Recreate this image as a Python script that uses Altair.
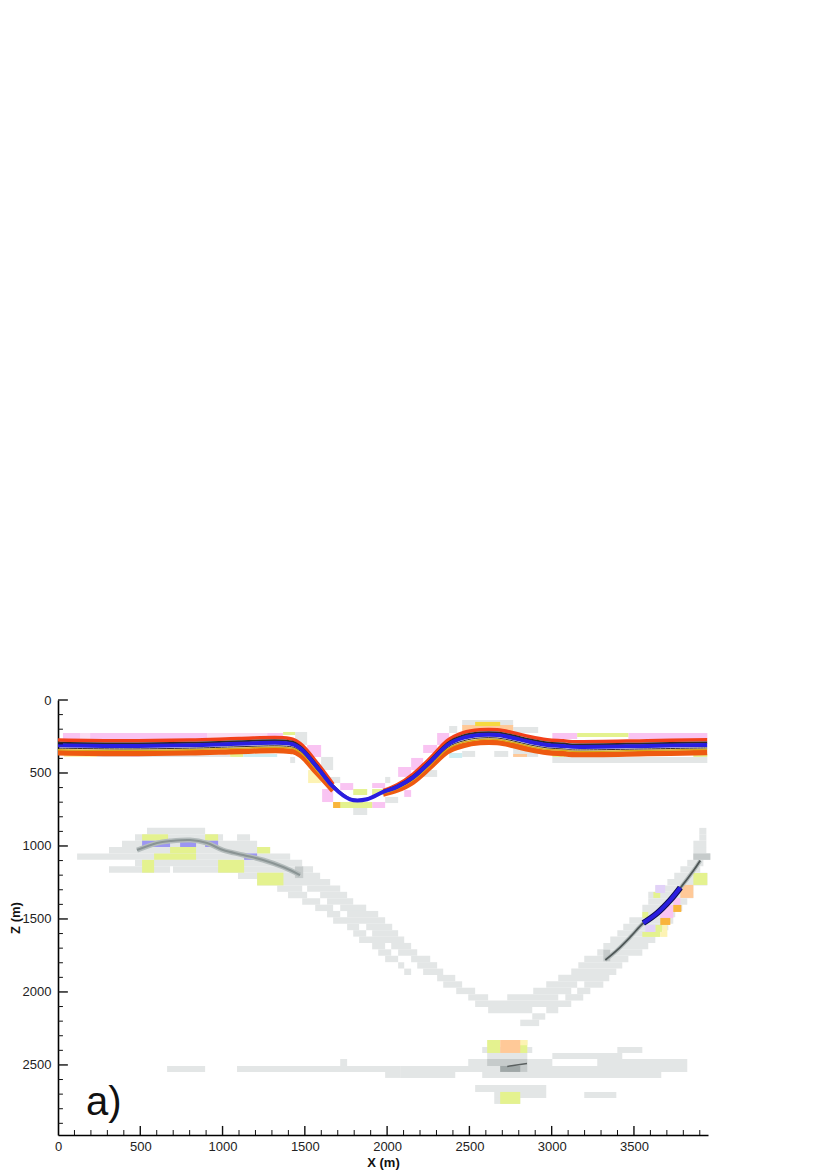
import altair as alt
import pandas as pd

X_MAX = 3950
Z_MAX = 2980
FONT = "Liberation Sans"

# grey halo rows: (top depth, x from, x to)
GREY_ROWS = [
    (876,541,894),(920,468,1003),(920,1088,1167),(964,389,1210),(1007,310,1289),(1051,116,1411),
    (1095,468,1484),(1139,310,681),(1139,699,1550),(1183,1094,1593),(1226,1210,1654),
    (1270,1332,1484),(1270,1514,1715),(1314,1398,1514),(1314,1593,1757),(1358,1484,1593),(1358,1635,1794),
    (1402,1563,1672),(1402,1715,1873),(1445,1635,1715),(1445,1757,1946),(1489,1672,1988),
    (1533,1757,1830),(1533,1873,2031),(1577,1794,1873),(1577,1909,2067),(1621,1830,2104),
    (1664,1909,1988),(1664,2025,2146),(1708,1946,2025),(1708,2067,2183),(1752,1988,2067),(1752,2146,2262),
    (1796,2067,2104),(1796,2183,2304),(1840,2104,2146),(1840,2219,2341),(1883,2304,2414),(1927,2341,2456),
    (1971,2420,2535),(2015,2493,2614),(2015,2730,3040),(2015,3083,3192),(2059,2535,3119),
    (2102,2614,2882),(2102,2967,3040),(2146,2882,2961),(2190,2809,2924),
    (1971,2888,3119),(1971,3155,3235),(1927,2967,3155),(1927,3198,3314),(1883,3040,3350),(1840,3119,3393),
    (1796,3162,3429),(1752,3198,3466),(1708,3277,3551),(1664,3314,3587),(1621,3356,3630),(1577,3399,3660),
    (1533,3435,3709),(1489,3472,3739),(1445,3551,3751),(1402,3551,3794),(1358,3587,3824),(1314,3587,3861),
    (1270,3630,3861),(1226,3703,3946),(1183,3745,3946),(1139,3782,3903),(1095,3824,3922),(1051,3861,3964),
    (1007,3861,3940),(964,3861,3940),(920,3897,3940),(876,3897,3940),
]

# deep flat reflector cells and the small blocks: (x0, x1, z0, z1)
GREY_CELLS = [
    (663,894,2507,2548),(1088,2079,2507,2548),(1715,1757,2459,2507),(1988,2079,2548,2589),
    (2079,3824,2507,2548),(2079,2414,2548,2589),(2578,3666,2548,2589),(2493,3004,2459,2507),(3277,3824,2459,2507),
    (2608,2852,2418,2459),(3004,3429,2418,2459),(2578,2882,2377,2418),(3399,3551,2377,2418),
    (2535,2967,2637,2685),(2651,2967,2685,2726),(3198,3393,2685,2726),(2651,2809,2726,2767),
    # shallow reflector halo
    (1441,1514,219,308),(1599,1672,390,480),(1635,1715,527,569),(1988,2019,527,569),(1794,1879,740,788),
    (1411,1441,390,432),(2219,2304,480,527),(1988,2067,664,706),(2377,2426,178,226),(2456,2766,137,178),
    (2456,2535,349,390),(2651,2736,349,390),(2766,2918,185,226),(2766,2918,329,390),(3004,3946,390,432),
    (237,438,370,390),(499,1046,375,390),
]
MID_GREY_CELLS = [(2608,2852,2459,2507),(2730,2852,2507,2548),(1440,1490,1140,1220),(3314,3356,1710,1790),(3861,3964,1051,1095)]
DARK_GREY_CELLS = [(2687,2809,2507,2548)]
PINK_CELLS = [
    (30,134,226,267),(195,906,226,267),(1271,1368,226,267),(1514,1599,308,390),(1605,1672,610,699),
    (1715,1794,569,617),(1909,1988,569,603),(1909,1988,699,740),(2304,2377,226,308),(2219,2304,308,363),
    (2146,2219,397,480),(2067,2146,459,527),(2104,2146,617,664),(3004,3155,226,267),(3466,3946,226,267),
    (3739,3782,1356,1404),(3660,3739,1404,1493),
]
PALE_PINK_CELLS = [(906,1271,226,267),(134,195,226,267)]
LIME_CELLS = [
    (1368,1441,219,240),(1794,1879,610,651),(1909,1988,610,651),(1672,1909,699,740),(3155,3466,226,253),
    (1046,1125,370,390),(3004,3083,370,390),(3861,3946,370,390),
    (511,669,920,964),(894,973,920,964),(1210,1289,1007,1051),(681,839,1007,1051),(584,839,1051,1095),
    (511,584,1095,1183),(973,1131,1095,1183),(1210,1370,1183,1270),
    (3861,3946,1185,1267),(3551,3587,1452,1493),(3630,3672,1541,1589),(3551,3660,1589,1623),(3618,3660,1315,1356),
    (2608,2687,2329,2418),(2772,2852,2329,2418),(2687,2809,2685,2767),
]
PALE_YELLOW_CELLS = [(1520,1599,480,569),(36,237,370,390),(3672,3703,1541,1589),(3660,3703,1589,1623),(2800,2852,2329,2365)]
PEACH_CELLS = [(2456,2766,171,212),(2766,2850,370,390),(3782,3861,1267,1356),(2687,2809,2329,2418)]
ORANGE_CELLS = [(3739,3788,1404,1452),(3660,3721,1493,1541),(1672,1715,699,740)]
LIGHT_BLUE_CELLS = [(2377,2456,363,397),(1125,1332,370,390)]
LILAC_CELLS = [(438,499,370,390),(3569,3630,1541,1589),(3630,3690,1267,1322)]
SOFT_BLUE_CELLS = [(511,681,964,1007),(742,839,964,1007),(894,973,964,1007),(1131,1210,1051,1095)]
PEAK_YELLOW_CELLS = [(2535,2687,150,178)]

PALETTE = [
    (GREY_CELLS,"#e3e6e6"),(MID_GREY_CELLS,"#c6cbcb"),(DARK_GREY_CELLS,"#a0a8a8"),(PALE_PINK_CELLS,"#fbdcf2"),
    (PINK_CELLS,"#f9c4f2"),(LIME_CELLS,"#e4f28f"),(PALE_YELLOW_CELLS,"#fdf3b4"),(PEACH_CELLS,"#ffc998"),
    (ORANGE_CELLS,"#f9b43c"),(LIGHT_BLUE_CELLS,"#cdeef2"),(LILAC_CELLS,"#e2d2f8"),(SOFT_BLUE_CELLS,"#9c96f2"),
    (PEAK_YELLOW_CELLS,"#f6d840"),
]

# shallow reflector, one depth curve per coloured lobe
REEF_X = [0,400,800,1100,1368,1471,1574,1672,1775,1878,1976,2061,2158,2261,2365,2462,2565,2669,2766,2869,2973,3070,3173,3581,3945]
Z_BLUE = [310,315,310,300,295,330,460,595,680,680,630,595,530,425,310,260,240,240,260,288,308,315,322,315,308]
Z_RED = [274,279,274,264,259,297,430,577,674,674,620,581,507,399,279,224,204,204,224,252,272,279,286,279,272]
Z_BLACK_UP = [293,298,293,283,278,315,447,585,676,676,625,587,520,413,296,243,223,223,243,271,291,298,305,298,291]
Z_BLACK_LO = [330,335,330,320,315,348,476,605,684,684,635,603,543,440,327,280,260,260,280,308,328,335,342,335,328]
Z_YELLOW = [340,345,340,330,325,357,484,612,686,686,639,608,548,446,336,290,270,270,290,318,338,345,352,345,338]
Z_ORANGE = [362,367,362,352,347,377,500,621,690,690,644,617,561,461,355,312,292,292,312,340,360,367,374,367,360]

# second reflector traces
ARC_X = [480,602,681,803,906,1003,1125,1246,1368,1471]
ARC_Z = [1028,980,966,959,980,1028,1062,1096,1144,1199]
RISE_X = [3326,3399,3478,3557,3642,3721,3794,3861,3903]
RISE_Z = [1781,1712,1623,1528,1459,1370,1270,1170,1100]
RISE_BLUE_X = [3557,3642,3721,3782]
RISE_BLUE_Z = [1528,1459,1370,1285]
DEEP_X = [2730,2850]
DEEP_Z = [2510,2490]

X_VALUES = [0,500,1000,1500,2000,2500,3000,3500]
X_MINOR = [100,200,300,400,600,700,800,900,1100,1200,1300,1400,1600,1700,1800,1900,2100,2200,2300,2400,2600,2700,2800,2900,3100,3200,3300,3400,3600,3700,3800,3900]
Z_VALUES = [0,500,1000,1500,2000,2500]
Z_MINOR = [100,200,300,400,600,700,800,900,1100,1200,1300,1400,1600,1700,1800,1900,2100,2200,2300,2400,2600,2700,2800,2900]
PANEL_LABEL = ["a)"]

x_s = alt.Scale(domain=[0, X_MAX], nice=False, zero=False)
z_s = alt.Scale(domain=[0, Z_MAX], reverse=True, nice=False, zero=False)
X = lambda f: alt.X(f, type="quantitative", scale=x_s)
Z = lambda f: alt.Y(f, type="quantitative", scale=z_s)

# axes first: a shared axis is taken from the first layer that has one
axis_common = dict(
    domainColor="#000000", domainWidth=1.6, ticks=False, grid=False, labelFont=FONT, labelFontSize=13,
    labelColor="#222222", titleFont=FONT, titleFontSize=13, titleFontWeight="bold", titleColor="#111111",
)
axes = alt.Chart(pd.DataFrame({"x": [0], "z": [0]})).mark_point(opacity=0).encode(
    x=alt.X("x:Q", scale=x_s, axis=alt.Axis(title="X (m)", values=X_VALUES, labelPadding=5, titlePadding=3,
                                             format="d", labelFlush=False, **axis_common)),
    y=alt.Y("z:Q", scale=z_s, axis=alt.Axis(title="Z (m)", values=Z_VALUES, labelPadding=7, titleX=-36,
                                             format="d", **axis_common)),
)

rows = [dict(x0=a, x1=b, z0=z, z1=z + 44, c="#e3e6e6") for z, a, b in GREY_ROWS]
for cells, col in PALETTE:
    rows += [dict(x0=a, x1=b, z0=c, z1=d, c=col) for a, b, c, d in cells]

rects = alt.Chart(pd.DataFrame(rows)).mark_rect(strokeWidth=0).encode(
    x=X("x0"), x2="x1", y=Z("z0"), y2="z1", color=alt.Color("c:N", scale=None))

def line(xs, zs, color, width):
    d = pd.DataFrame({"x": xs, "z": zs, "o": list(range(len(xs)))})
    return alt.Chart(d).mark_line(color=color, strokeWidth=width, interpolate="cardinal").encode(
        x=X("x"), y=Z("z"), order="o:Q")

layers = [axes, rects]
for zs, color, w in [(Z_ORANGE, "#ee5a10", 5.5), (Z_RED, "#f2401a", 3.5)]:
    layers.append(line(REEF_X[:8], zs[:8], color, w))
    layers.append(line(REEF_X[10:], zs[10:], color, w))
layers.append(line(REEF_X[:8], Z_YELLOW[:8], "#d8a818", 1.5))
layers.append(line(REEF_X[10:], Z_YELLOW[10:], "#d8a818", 1.5))
layers.append(line(REEF_X, Z_BLACK_UP, "#2a2a2a", 2))
layers.append(line(REEF_X[:8], Z_BLACK_LO[:8], "#3a3028", 1))
layers.append(line(REEF_X[10:], Z_BLACK_LO[10:], "#3a3028", 1))
layers.append(line(REEF_X, Z_BLUE, "#2a1ee0", 4))

layers.append(line(ARC_X, ARC_Z, "#b4bcbc", 5))
layers.append(line(ARC_X, ARC_Z, "#8a9494", 2))
layers.append(line(RISE_X, RISE_Z, "#b4bcbc", 4))
layers.append(line(RISE_X, RISE_Z, "#4e5656", 1.8))
layers.append(line(RISE_BLUE_X, RISE_BLUE_Z, "#101050", 6))
layers.append(line(RISE_BLUE_X, RISE_BLUE_Z, "#2a1ee0", 4))
layers.append(line(DEEP_X, DEEP_Z, "#5a6060", 1.5))

# inward ticks, drawn in data units through the scales
maj_x = pd.DataFrame({"v": X_VALUES[1:], "b": Z_MAX, "t": Z_MAX - 62})
min_x = pd.DataFrame({"v": X_MINOR, "b": Z_MAX, "t": Z_MAX - 34})
maj_z = pd.DataFrame({"v": Z_VALUES, "a": 0, "l": 60})
min_z = pd.DataFrame({"v": Z_MINOR, "a": 0, "l": 30})
for d, w in [(maj_x, 1.4), (min_x, 1)]:
    layers.append(alt.Chart(d).mark_rule(color="#111111", strokeWidth=w).encode(x=X("v"), y=Z("b"), y2="t"))
for d, w in [(maj_z, 1.4), (min_z, 1)]:
    layers.append(alt.Chart(d).mark_rule(color="#111111", strokeWidth=w).encode(y=Z("v"), x=X("a"), x2="l"))

label = alt.Chart(pd.DataFrame({"x": [170], "z": [2843], "t": PANEL_LABEL})).mark_text(
    font=FONT, fontSize=40, align="left", baseline="alphabetic", color="#111111"
).encode(x=X("x"), y=Z("z"), text="t:N")
layers.append(label)

chart = alt.layer(*layers).properties(
    width=650, height=435,
    autosize=alt.AutoSizeParams(type="none"),
    padding={"left": 50, "top": 692, "right": 100, "bottom": 38},
    background="#ffffff",
).configure_view(stroke=None)

chart.save("out.html", embed_options={"renderer": "svg", "actions": False})
